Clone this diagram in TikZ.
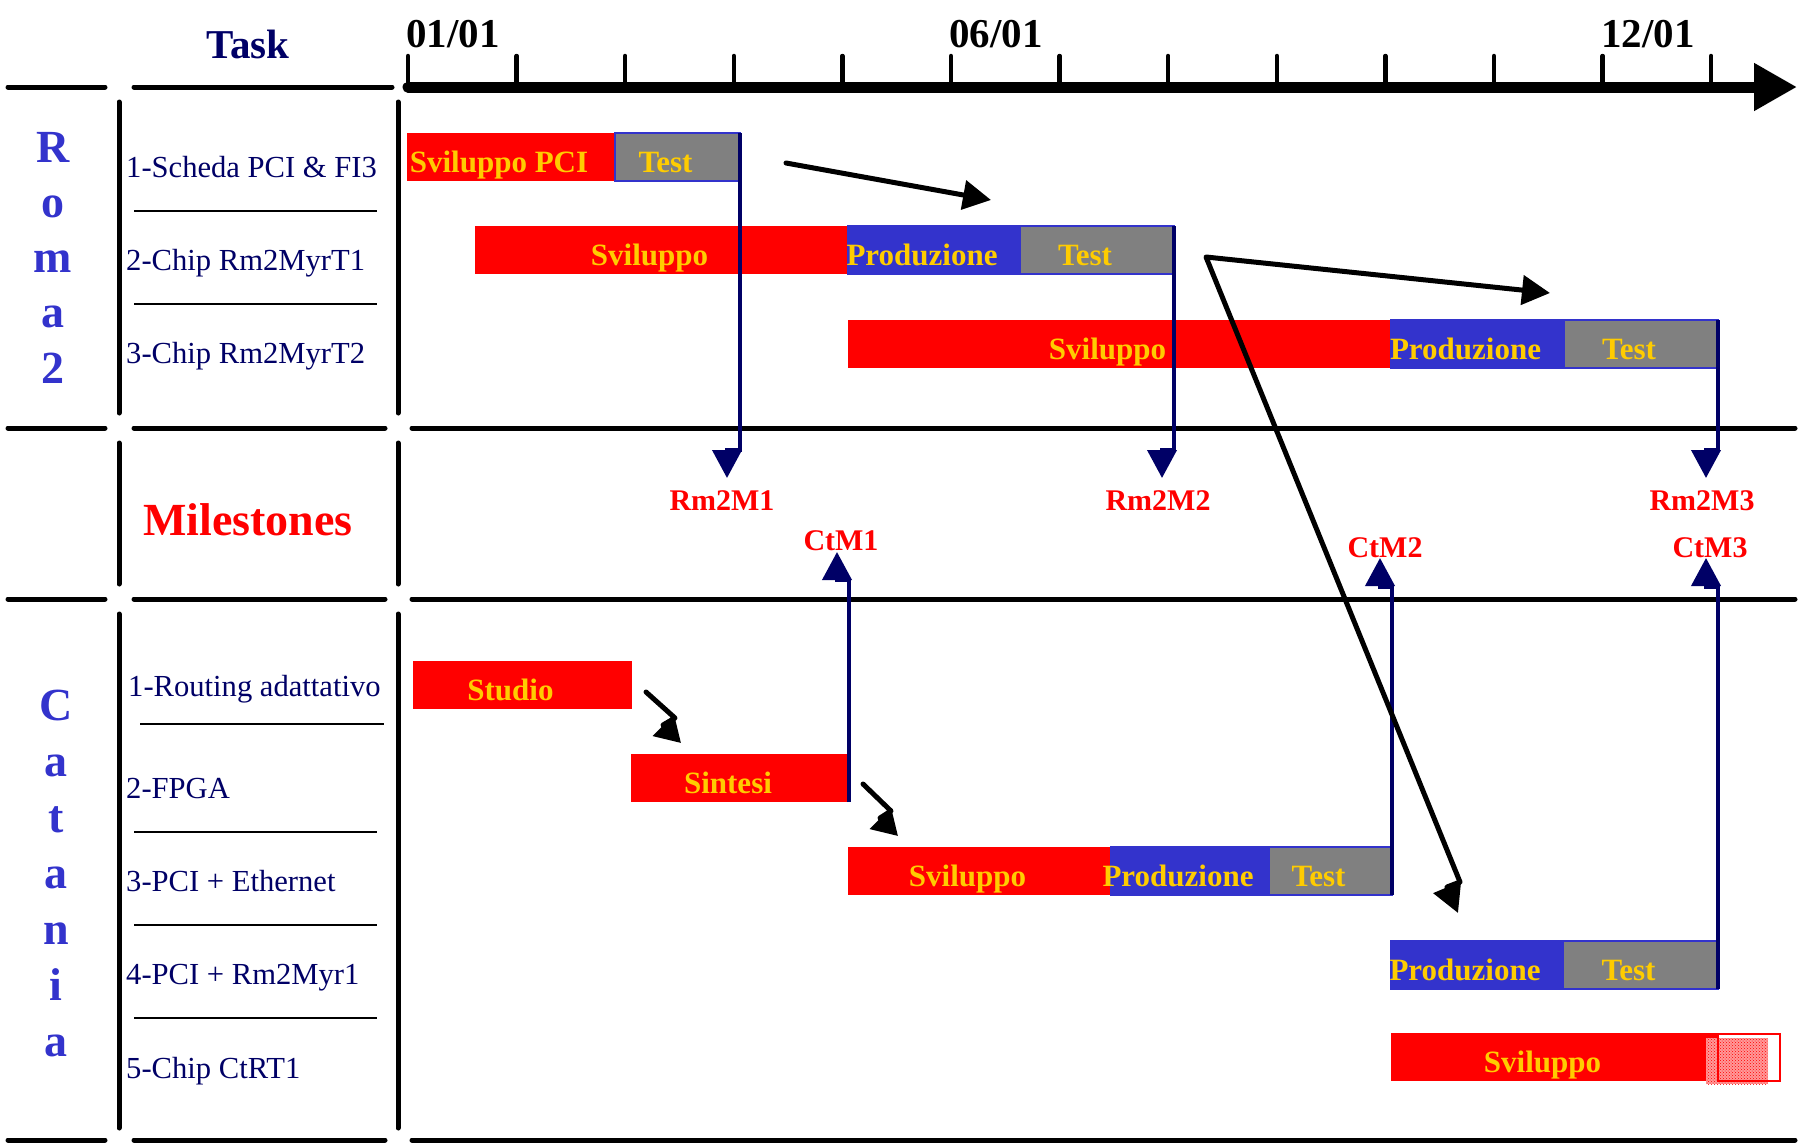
\documentclass[tikz,border=0pt]{standalone}
\usepackage{fontspec}
\setmainfont{Liberation Serif}
\usetikzlibrary{arrows.meta,patterns}
\definecolor{devred}{HTML}{FF0000}
\definecolor{prodblue}{HTML}{3333CC}
\definecolor{testgray}{HTML}{808080}
\definecolor{txtyellow}{HTML}{FFCC00}
\definecolor{msnavy}{HTML}{000066}
\begin{document}
\begin{tikzpicture}[x=1pt,y=-1pt,
		>={Triangle[length=28pt,width=29pt]},
		tabline/.style={line width=5pt,line cap=round},
		rowsep/.style={line width=2.5pt},
		bar/.style={rectangle,inner sep=0pt,outer sep=0pt,minimum height=48pt,anchor=north west},
		dev/.style={bar,fill=devred},
		prod/.style={bar,fill=prodblue,draw=prodblue,line width=2pt},
		test/.style={bar,fill=testgray,draw=prodblue,line width=2pt},
		txt/.style={text=txtyellow,font=\fontsize{31}{36}\selectfont\bfseries,anchor=base,xshift=-12pt,yshift=-15pt},
		task/.style={text=msnavy,font=\fontsize{30.6}{36}\selectfont,anchor=base west,inner sep=0pt},
		site/.style={text=prodblue,font=\fontsize{46}{52}\selectfont\bfseries,anchor=base,inner sep=0pt},
		date/.style={font=\fontsize{41}{48}\selectfont\bfseries,anchor=base west,inner sep=0pt},
		ms/.style={draw=msnavy,line width=4pt,->},
		mslab/.style={text=devred,font=\fontsize{30}{36}\selectfont\bfseries,anchor=base,inner sep=0pt},
		flow/.style={line width=5pt,line cap=round,line join=round,->}]
		
		\useasboundingbox (0,0) rectangle (1798,1143);
		
		\draw[line width=11pt,line cap=round,-{Triangle[length=43pt,width=45pt]}] (408,87) -- (1797,87);
		\foreach \k in {0,...,12}
		\draw[line width=4.5pt,line cap=round] ({408+108.6*\k},56) -- ({408+108.6*\k},87);
		\node[date] (d1) at (406,47) {01/01};
		\node[date] (d6) at (949,47) {06/01};
		\node[date] (d12) at (1601,47) {12/01};
		\node[date,anchor=base,text=msnavy] (task) at (248,58) {Task};
		
		\draw[tabline] (8,87) -- (105,87) (134,87) -- (392,87);
		\foreach \y in {428,599,1140}
		\draw[tabline] (8,\y) -- (105,\y) (134,\y) -- (385,\y) (412,\y) -- (1795,\y);
		\foreach \x in {119,398}
		\draw[tabline] (\x,102) -- (\x,413) (\x,443) -- (\x,584) (\x,614) -- (\x,1128);
		\foreach \y in {211,304,832,925,1018}
		\draw[rowsep] (134,\y) -- (377,\y);
		\draw[rowsep] (140,724) -- (384,724);
		
		\foreach \c [count=\i] in {R,o,m,a,2}
		\node[site] (roma\i) at (53,{162+55.3*(\i-1)}) {\c};
		\foreach \c [count=\i] in {C,a,t,a,n,i,a}
		\node[site] (cat\i) at (56,{720+56*(\i-1)}) {\c};
		
		\node[task] (rt1) at (126,177) {1-Scheda PCI \& FI3};
		\node[task] (rt2) at (126,270) {2-Chip Rm2MyrT1};
		\node[task] (rt3) at (126,363) {3-Chip Rm2MyrT2};
		\node[task] (ct1) at (128,696) {1-Routing adattativo};
		\node[task] (ct2) at (126,798) {2-FPGA};
		\node[task] (ct3) at (126,891) {3-PCI + Ethernet};
		\node[task] (ct4) at (126,984) {4-PCI + Rm2Myr1};
		\node[task] (ct5) at (126,1078) {5-Chip CtRT1};
		\node[site,text=devred] (mst) at (248,535) {Milestones};
		
		\node[dev,minimum width=208pt] (pci) at (407,133) {};
		\node[test,minimum width=125pt] (t1) at (pci.north east) {};
		\node[dev,minimum width=373pt] (s2) at (475,226) {};
		\node[prod,minimum width=172pt] (p2) at (s2.north east) {};
		\node[test,minimum width=154pt] (t2) at (p2.north east) {};
		\node[dev,minimum width=543pt] (s3) at (848,320) {};
		\node[prod,minimum width=173pt] (p3) at (s3.north east) {};
		\node[test,minimum width=154pt] (t3) at (p3.north east) {};
		
		\node[dev,minimum width=219pt] (studio) at (413,661) {};
		\node[dev,minimum width=218pt] (sintesi) at (631,754) {};
		\node[dev,minimum width=263pt] (cs3) at (848,847) {};
		\node[prod,minimum width=158pt] (cp3) at (cs3.north east) {};
		\node[test,minimum width=123pt] (ctt3) at (cp3.north east) {};
		\node[prod,minimum width=172pt] (cp4) at (1391,941) {};
		\node[test,minimum width=155pt] (ctt4) at (cp4.north east) {};
		\node[dev,minimum width=327pt] (cs5) at (1391,1033) {};
		\fill[devred!40] (1706,1038) rectangle (1768,1084);
		\fill[pattern=crosshatch dots,pattern color=devred] (1706,1038) rectangle (1768,1084);
		\draw[devred,line width=2.5pt] (1718,1034) rectangle (1780,1081);
		
		\node[txt] (pcil) at (pci.center) {Sviluppo PCI};
		\node[txt] (t1l) at (t1.center) {Test};
		\node[txt] (s2l) at (s2.center) {Sviluppo};
		\node[txt] (p2l) at (p2.center) {Produzione};
		\node[txt] (t2l) at (t2.center) {Test};
		\node[txt] (s3l) at (s3.center) {Sviluppo};
		\node[txt] (p3l) at (p3.center) {Produzione};
		\node[txt] (t3l) at (t3.center) {Test};
		\node[txt] (studiol) at (studio.center) {Studio};
		\node[txt] (sintesil) at (sintesi.center) {Sintesi};
		\node[txt] (cs3l) at (cs3.center) {Sviluppo};
		\node[txt] (cp3l) at (cp3.center) {Produzione};
		\node[txt] (ctt3l) at (ctt3.center) {Test};
		\node[txt] (cp4l) at (cp4.center) {Produzione};
		\node[txt] (ctt4l) at (ctt4.center) {Test};
		\node[txt] (cs5l) at (cs5.center) {Sviluppo};
		
		\node[mslab] (rm2m1) at (722,510) {Rm2M1};
		\node[mslab] (rm2m2) at (1158,510) {Rm2M2};
		\node[mslab] (rm2m3) at (1702,510) {Rm2M3};
		\node[mslab] (ctm1) at (841,550) {CtM1};
		\node[mslab] (ctm2) at (1385,557) {CtM2};
		\node[mslab] (ctm3) at (1710,557) {CtM3};
		
		\draw[ms] (t1.north east) -- ++(0,317) -- ++(-13,0) -- ++(0,28);
		\draw[ms] (t2.north east) -- ++(0,224) -- ++(-12,0) -- ++(0,28);
		\draw[ms] (t3.north east) -- ++(0,130) -- ++(-12,0) -- ++(0,28);
		\draw[ms] (sintesi.south east) -- ++(0,-222) -- ++(-12,0) -- ++(0,-28);
		\draw[ms] (ctt3.south east) -- ++(0,-308) -- ++(-12,0) -- ++(0,-29);
		\draw[ms] (ctt4.south east) -- ++(0,-402) -- ++(-12,0) -- ++(0,-29);
		
		\draw[flow] (786,163) -- (991,200);
		\draw[flow,<->] (1550,293) -- (1206,257) -- (1460,882) -- (1447,887) -- (1458,913);
		\draw[flow,-{Triangle[length=25pt,width=29pt]}] (646,692) -- (675,718) -- (663,725) -- (681,743);
		\draw[flow,-{Triangle[length=25pt,width=29pt]}] (863,784) -- (891,811) -- (880,818) -- (898,836);
		\end{tikzpicture}
\end{document}
